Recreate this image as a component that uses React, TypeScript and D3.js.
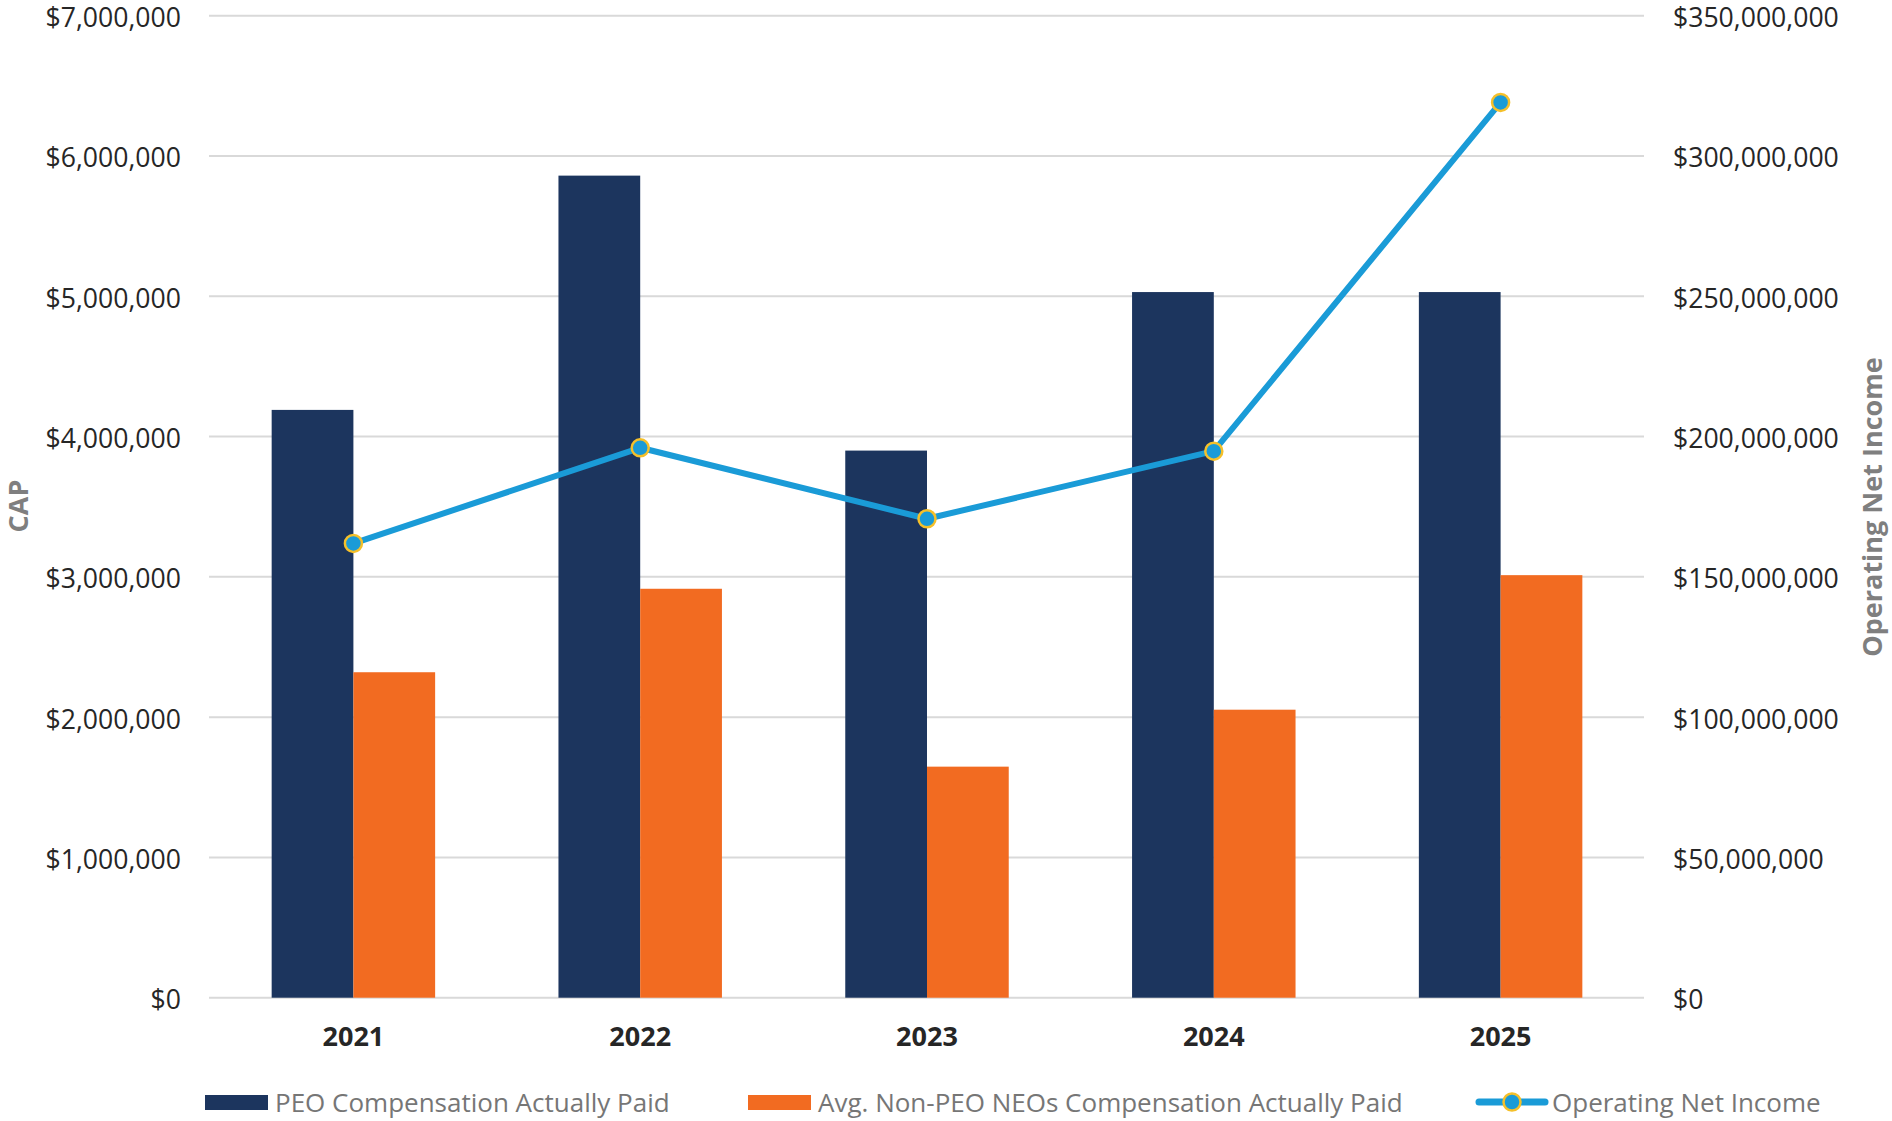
import React from "react";
import * as d3 from "d3";

const years = ["2021", "2022", "2023", "2024", "2025"];
const peoCap = [4190000, 5860000, 3900000, 5030000, 5030000];
const neoCap = [2320000, 2915000, 1647000, 2053000, 3012000];
const netIncome = [161900000, 196000000, 170700000, 194800000, 319100000];
const leftTicks = [0, 1000000, 2000000, 3000000, 4000000, 5000000, 6000000, 7000000];
const rightTicks = [0, 50000000, 100000000, 150000000, 200000000, 250000000, 300000000, 350000000];
const legendLabels = [
  "PEO Compensation Actually Paid",
  "Avg. Non-PEO NEOs Compensation Actually Paid",
  "Operating Net Income",
];

const W = 1892;
const H = 1121;
const left = 210;
const right = 1644;
const top = 15.7;
const bottom = 997.7;

const NAVY = "#1c355e";
const ORANGE = "#f26b21";
const BLUE = "#1a9bd7";
const GOLD = "#f5c02a";
const FONT = "'Open Sans', 'Noto Sans', sans-serif";

export default function App() {
  const x = d3.scaleBand<string>().domain(years).range([left, right]).paddingInner(0.43).paddingOuter(0.215);
  const bw = x.bandwidth() / 2;
  const yL = d3.scaleLinear().domain([0, 7000000]).range([bottom, top]);
  const yR = d3.scaleLinear().domain([0, 350000000]).range([bottom, top]);
  const fmt = (v: number) => "$" + d3.format(",")(v);
  const cx = (d: string) => (x(d) as number) + x.bandwidth() / 2;
  const line = d3
    .line<number>()
    .x((_, i) => cx(years[i]))
    .y((v) => yR(v));

  return (
    <svg
      width={W}
      height={H}
      viewBox={`0 0 ${W} ${H}`}
      style={{ position: "absolute", left: 0, top: 0, background: "#fff", fontFamily: FONT }}
    >
      <rect x={0} y={0} width={W} height={H} fill="#fff" />
      {leftTicks.map((t) => (
        <line key={"g" + t} x1={left - 1} x2={right} y1={yL(t)} y2={yL(t)} stroke="#d9d9d9" strokeWidth={2} />
      ))}
      {leftTicks.map((t) => (
        <text key={"l" + t} x={181} y={yL(t) + 1.5} textAnchor="end" dominantBaseline="central" fontSize={26.6} fill="#262626">
          {fmt(t)}
        </text>
      ))}
      {rightTicks.map((t) => (
        <text key={"r" + t} x={1673} y={yR(t) + 1.5} textAnchor="start" dominantBaseline="central" fontSize={26.6} fill="#262626">
          {fmt(t)}
        </text>
      ))}
      {years.map((yr, i) => (
        <g key={yr}>
          <rect x={x(yr)} y={yL(peoCap[i])} width={bw} height={bottom - yL(peoCap[i])} fill={NAVY} />
          <rect x={(x(yr) as number) + bw} y={yL(neoCap[i])} width={bw} height={bottom - yL(neoCap[i])} fill={ORANGE} />
        </g>
      ))}
      <path d={line(netIncome) || ""} fill="none" stroke={BLUE} strokeWidth={6} strokeLinejoin="round" />
      {netIncome.map((v, i) => (
        <circle key={i} cx={cx(years[i])} cy={yR(v)} r={8.5} fill={BLUE} stroke={GOLD} strokeWidth={2.5} />
      ))}
      {years.map((yr) => (
        <text key={"x" + yr} x={cx(yr)} y={1035} textAnchor="middle" dominantBaseline="central" fontSize={27} fontWeight="bold" fill="#262626">
          {yr}
        </text>
      ))}
      <text transform="translate(17,506) rotate(-90)" textAnchor="middle" dominantBaseline="central" fontSize={27} fontWeight="bold" fill="#7f7f7f">
        CAP
      </text>
      <text transform="translate(1871,507) rotate(-90)" textAnchor="middle" dominantBaseline="central" fontSize={27} fontWeight="bold" fill="#7f7f7f">
        Operating Net Income
      </text>
      {/* legend */}
      <rect x={205} y={1095} width={63} height={15} fill={NAVY} />
      <text x={275} y={1102} dominantBaseline="central" fontSize={26} fill="#767676">{legendLabels[0]}</text>
      <rect x={748} y={1095} width={63} height={15} fill={ORANGE} />
      <text x={818} y={1102} dominantBaseline="central" fontSize={26} fill="#767676">{legendLabels[1]}</text>
      <line x1={1479} x2={1545} y1={1102} y2={1102} stroke={BLUE} strokeWidth={7} strokeLinecap="round" />
      <circle cx={1512} cy={1102} r={8.5} fill={BLUE} stroke={GOLD} strokeWidth={2.5} />
      <text x={1552} y={1102} dominantBaseline="central" fontSize={26} fill="#767676">{legendLabels[2]}</text>
    </svg>
  );
}
